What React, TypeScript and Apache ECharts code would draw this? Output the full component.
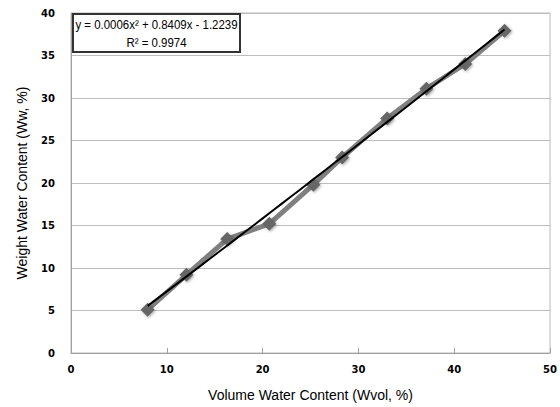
import React, { useEffect, useRef } from "react";
import * as echarts from "echarts";

const volumeWater = [8.0, 12.05, 16.3, 20.7, 25.3, 28.3, 33.0, 37.1, 41.15, 45.25];
const weightWater = [5.1, 9.2, 13.4, 15.2, 19.8, 23.0, 27.6, 31.1, 34.0, 37.9];
const trendCoef = [0.0006, 0.8409, -1.2239]; // a x^2 + b x + c
const rSquared = 0.9974;
const xTicks = [0, 10, 20, 30, 40, 50];
const yTicks = [0, 5, 10, 15, 20, 25, 30, 35, 40];

export default function App() {
  const ref = useRef<HTMLDivElement>(null);
  useEffect(() => {
    if (!ref.current) return;
    const chart = echarts.init(ref.current, null, { renderer: "svg" });
    const data = volumeWater.map((x, i) => [x, weightWater[i]]);
    const xmin = Math.min(...volumeWater);
    const xmax = Math.max(...volumeWater);
    const trend: number[][] = [];
    const steps = 40;
    for (let i = 0; i <= steps; i++) {
      const x = xmin + ((xmax - xmin) * i) / steps;
      trend.push([x, trendCoef[0] * x * x + trendCoef[1] * x + trendCoef[2]]);
    }
    const fmt = (v: number) => Math.abs(v).toFixed(4);
    const eq = `y = ${fmt(trendCoef[0])}x² + ${fmt(trendCoef[1])}x - ${fmt(trendCoef[2])}`;
    const boxFont = "Liberation Sans";
    chart.setOption({
      animation: false,
      backgroundColor: "#ffffff",
      grid: { left: 71, right: 5, top: 13, bottom: 54, show: true, borderColor: "#b8b8b8", borderWidth: 1 },
      xAxis: {
        type: "value",
        min: xTicks[0],
        max: xTicks[xTicks.length - 1],
        interval: 10,
        name: "Volume Water Content (Wvol, %)",
        nameLocation: "middle",
        nameGap: 35,
        nameTextStyle: { fontFamily: "Liberation Sans", fontSize: 14, color: "#000" },
        axisLine: { show: true, lineStyle: { color: "#a0a0a0" } },
        axisTick: { show: true, inside: true, length: 5, lineStyle: { color: "#a0a0a0" } },
        axisLabel: { fontFamily: "DejaVu Sans", fontWeight: "bold", fontSize: 10, color: "#000", margin: 11 },
        splitLine: { show: false },
      },
      yAxis: {
        type: "value",
        min: yTicks[0],
        max: yTicks[yTicks.length - 1],
        interval: 5,
        name: "Weight Water Content (Ww, %)",
        nameLocation: "middle",
        nameGap: 42,
        nameTextStyle: { fontFamily: "Liberation Sans", fontSize: 14, color: "#000" },
        axisLine: { show: true, lineStyle: { color: "#a0a0a0" } },
        axisTick: { show: false },
        axisLabel: { fontFamily: "DejaVu Sans", fontWeight: "bold", fontSize: 10, color: "#000", margin: 16 },
        splitLine: { show: true, lineStyle: { color: "#bdbdbd", width: 1 } },
      },
      series: [
        {
          type: "line",
          data,
          symbol: "diamond",
          symbolSize: 14,
          lineStyle: { color: "#808080", width: 5 },
          itemStyle: { color: "#666666", shadowColor: "rgba(0,0,0,0.35)", shadowBlur: 3, shadowOffsetX: 1, shadowOffsetY: 1 },
          z: 2,
        },
        {
          type: "line",
          data: trend,
          symbol: "none",
          smooth: false,
          lineStyle: { color: "#000000", width: 2 },
          z: 3,
        },
      ],
      graphic: [
        { type: "rect", x: 73, y: 14, z: 10, shape: { x: 0, y: 0, width: 167, height: 38 }, style: { fill: "#fff", stroke: "#333", lineWidth: 2 } },
        { type: "text", x: 156.5, y: 25, scaleX: 0.88, z: 11, style: { text: eq, fontFamily: boxFont, fontSize: 13, fill: "#000", align: "center", verticalAlign: "middle" } },
        { type: "text", x: 156.5, y: 43, scaleX: 0.88, z: 11, style: { text: `R² = ${rSquared.toFixed(4)}`, fontFamily: boxFont, fontSize: 13, fill: "#000", align: "center", verticalAlign: "middle" } },
      ],
    });
    return () => chart.dispose();
  }, []);
  return <div ref={ref} style={{ width: 560, height: 407, position: "absolute", left: 0, top: 0 }} />;
}
